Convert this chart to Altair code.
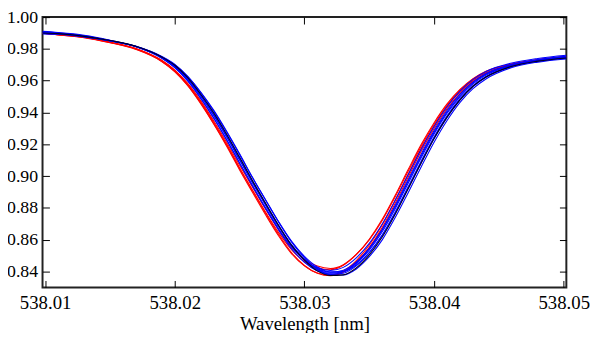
import altair as alt
import pandas as pd

# wavelength grid [nm]
wavelength = [538.0098, 538.011, 538.013, 538.015, 538.017, 538.019, 538.020, 538.021,
              538.022, 538.023, 538.024, 538.025, 538.026, 538.027, 538.028, 538.029,
              538.030, 538.031, 538.032, 538.033, 538.034, 538.035, 538.036, 538.037,
              538.038, 538.039, 538.040, 538.041, 538.042, 538.043, 538.044, 538.046,
              538.048, 538.0502]

# blue profiles
blue_1 = [0.9910, 0.9903, 0.9886, 0.9855, 0.9815, 0.9742, 0.9682, 0.9598, 0.9489, 0.9364, 0.9227, 0.9081,
          0.8939, 0.8800, 0.8669, 0.8555, 0.8472, 0.8423, 0.8406, 0.8426, 0.8486, 0.8577, 0.8699, 0.8848,
          0.9009, 0.9168, 0.9312, 0.9436, 0.9534, 0.9608, 0.9658, 0.9711, 0.9740, 0.9760]
blue_2 = [0.9906, 0.9900, 0.9883, 0.9853, 0.9815, 0.9741, 0.9683, 0.9599, 0.9490, 0.9367, 0.9229, 0.9082,
          0.8937, 0.8796, 0.8662, 0.8544, 0.8458, 0.8403, 0.8383, 0.8399, 0.8455, 0.8545, 0.8666, 0.8815,
          0.8977, 0.9138, 0.9286, 0.9414, 0.9515, 0.9593, 0.9645, 0.9703, 0.9733, 0.9753]
blue_3 = [0.9903, 0.9898, 0.9881, 0.9852, 0.9814, 0.9744, 0.9688, 0.9608, 0.9502, 0.9381, 0.9246, 0.9101,
          0.8957, 0.8818, 0.8684, 0.8565, 0.8477, 0.8419, 0.8396, 0.8408, 0.8460, 0.8546, 0.8662, 0.8807,
          0.8967, 0.9127, 0.9275, 0.9404, 0.9507, 0.9586, 0.9640, 0.9700, 0.9730, 0.9750]
blue_4 = [0.9902, 0.9897, 0.9880, 0.9852, 0.9815, 0.9745, 0.9690, 0.9610, 0.9505, 0.9385, 0.9250, 0.9105,
          0.8960, 0.8820, 0.8685, 0.8565, 0.8475, 0.8415, 0.8390, 0.8400, 0.8450, 0.8535, 0.8650, 0.8795,
          0.8955, 0.9115, 0.9265, 0.9395, 0.9500, 0.9580, 0.9635, 0.9697, 0.9728, 0.9748]
blue_5 = [0.9899, 0.9895, 0.9878, 0.9851, 0.9815, 0.9747, 0.9694, 0.9615, 0.9512, 0.9394, 0.9259, 0.9115,
          0.8968, 0.8828, 0.8691, 0.8569, 0.8476, 0.8411, 0.8383, 0.8389, 0.8435, 0.8518, 0.8630, 0.8774,
          0.8933, 0.9094, 0.9246, 0.9379, 0.9487, 0.9569, 0.9626, 0.9692, 0.9724, 0.9744]
blue_6 = [0.9897, 0.9894, 0.9877, 0.9851, 0.9816, 0.9751, 0.9700, 0.9625, 0.9525, 0.9409, 0.9277, 0.9135,
          0.8989, 0.8850, 0.8714, 0.8591, 0.8495, 0.8428, 0.8397, 0.8399, 0.8441, 0.8519, 0.8627, 0.8767,
          0.8924, 0.9083, 0.9236, 0.9369, 0.9480, 0.9563, 0.9622, 0.9689, 0.9722, 0.9742]
blue_7 = [0.9894, 0.9892, 0.9875, 0.9850, 0.9816, 0.9752, 0.9703, 0.9628, 0.9529, 0.9415, 0.9282, 0.9140,
          0.8991, 0.8851, 0.8712, 0.8586, 0.8487, 0.8414, 0.8380, 0.8378, 0.8416, 0.8493, 0.8599, 0.8739,
          0.8896, 0.9057, 0.9213, 0.9350, 0.9464, 0.9550, 0.9611, 0.9683, 0.9717, 0.9737]

# dark profile
black_1 = [0.9900, 0.9896, 0.9879, 0.9853, 0.9817, 0.9749, 0.9697, 0.9619, 0.9515, 0.9398, 0.9263, 0.9118,
           0.8970, 0.8829, 0.8691, 0.8566, 0.8472, 0.8404, 0.8375, 0.8379, 0.8423, 0.8505, 0.8617, 0.8760,
           0.8920, 0.9082, 0.9236, 0.9371, 0.9480, 0.9565, 0.9623, 0.9691, 0.9723, 0.9743]

# red profiles
red_1 = [0.9898, 0.9889, 0.9872, 0.9840, 0.9799, 0.9721, 0.9658, 0.9569, 0.9456, 0.9328, 0.9188, 0.9039,
         0.8897, 0.8757, 0.8625, 0.8513, 0.8435, 0.8390, 0.8377, 0.8403, 0.8469, 0.8567, 0.8694, 0.8848,
         0.9012, 0.9173, 0.9315, 0.9438, 0.9531, 0.9603, 0.9650, 0.9701, 0.9728, 0.9748]
red_2 = [0.9898, 0.9888, 0.9871, 0.9839, 0.9797, 0.9721, 0.9657, 0.9571, 0.9460, 0.9331, 0.9195, 0.9048,
         0.8911, 0.8774, 0.8646, 0.8538, 0.8462, 0.8423, 0.8411, 0.8439, 0.8507, 0.8603, 0.8728, 0.8879,
         0.9041, 0.9198, 0.9336, 0.9454, 0.9545, 0.9613, 0.9659, 0.9705, 0.9731, 0.9751]
red_3 = [0.9900, 0.9891, 0.9874, 0.9843, 0.9802, 0.9729, 0.9667, 0.9583, 0.9475, 0.9348, 0.9213, 0.9068,
         0.8930, 0.8793, 0.8665, 0.8556, 0.8476, 0.8434, 0.8419, 0.8443, 0.8507, 0.8599, 0.8721, 0.8870,
         0.9030, 0.9186, 0.9326, 0.9445, 0.9540, 0.9609, 0.9657, 0.9705, 0.9733, 0.9753]
red_4 = [0.9898, 0.9890, 0.9873, 0.9842, 0.9802, 0.9725, 0.9664, 0.9577, 0.9465, 0.9339, 0.9200, 0.9051,
         0.8908, 0.8767, 0.8634, 0.8519, 0.8438, 0.8389, 0.8373, 0.8395, 0.8457, 0.8552, 0.8677, 0.8829,
         0.8993, 0.9154, 0.9299, 0.9424, 0.9520, 0.9595, 0.9644, 0.9698, 0.9726, 0.9746]

x_ticks = [538.01, 538.02, 538.03, 538.04, 538.05]
y_ticks = [0.84, 0.86, 0.88, 0.90, 0.92, 0.94, 0.96, 0.98, 1.00]


def frame(curves):
    rows = []
    for name, vals in curves.items():
        for lam, f in zip(wavelength, vals):
            rows.append({"lam": lam, "flux": f, "curve": name})
    return pd.DataFrame(rows)


df_red = frame({"r1": red_1, "r2": red_2, "r3": red_3, "r4": red_4})
df_blue = frame({"b1": blue_1, "b2": blue_2, "b3": blue_3, "b4": blue_4,
                 "b5": blue_5, "b6": blue_6, "b7": blue_7})
df_black = frame({"k1": black_1})

FONT = "Liberation Serif"
TICK = 7

xs = alt.Scale(domain=[538.0098, 538.0502], zero=False, nice=False)
ys = alt.Scale(domain=[0.83, 1.0], zero=False, nice=False)

common_axis = dict(tickSize=TICK, offset=-TICK, domain=False, grid=False,
                   tickColor="black", tickWidth=1)

ax_bottom = alt.Axis(orient="bottom", values=x_ticks, format=".2f", labelFont=FONT,
                     labelFontSize=19, labelColor="black", labelPadding=6,
                     labelFlush=False, title="Wavelength [nm]", titleFont=FONT,
                     titleFontSize=19, titleFontWeight="normal", titleColor="black",
                     titlePadding=3, **common_axis)
ax_top = alt.Axis(orient="top", values=x_ticks, labels=False, title=None, **common_axis)
ax_left = alt.Axis(orient="left", values=y_ticks, format=".2f", labelFont=FONT,
                   labelFontSize=18, labelColor="black", labelPadding=5, title=None,
                   **common_axis)
ax_right = alt.Axis(orient="right", values=y_ticks, labels=False, title=None, **common_axis)

line_kw = dict(strokeWidth=1.1, interpolate="monotone", clip=True)

red_layer = alt.Chart(df_red).mark_line(color="#ff0000", **line_kw).encode(
    x=alt.X("lam:Q", scale=xs, axis=ax_bottom),
    y=alt.Y("flux:Q", scale=ys, axis=ax_left),
    detail="curve:N",
)
blue_layer = alt.Chart(df_blue).mark_line(color="#0000ff", **line_kw).encode(
    x=alt.X("lam:Q", scale=xs, axis=ax_top),
    y=alt.Y("flux:Q", scale=ys, axis=ax_right),
    detail="curve:N",
)
black_layer = alt.Chart(df_black).mark_line(color="#000022", **line_kw).encode(
    x=alt.X("lam:Q", scale=xs, axis=None),
    y=alt.Y("flux:Q", scale=ys, axis=None),
    detail="curve:N",
)

chart = alt.layer(red_layer, blue_layer, black_layer).properties(
    width=531, height=274,
    autosize=alt.AutoSizeParams(type="none"),
    padding={"left": 35, "top": 7, "right": 26, "bottom": 44},
    background="white",
).configure_view(stroke="#222222", strokeWidth=2)

chart.save("out.html", embed_options={"renderer": "svg", "actions": False})
